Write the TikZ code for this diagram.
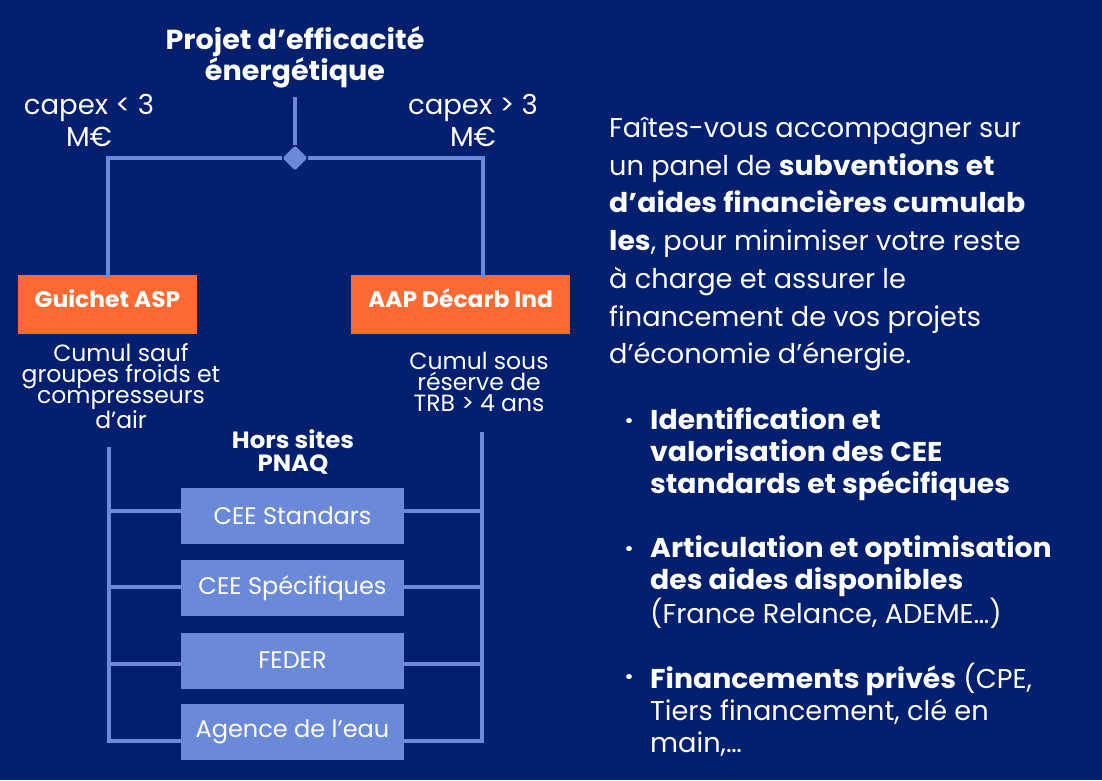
\documentclass[tikz,border=0pt]{standalone}
\usepackage{fontspec}
\setmainfont{Poppins}[BoldFeatures={FakeStretch=1.04}]
\usetikzlibrary{shapes.geometric,calc}
\definecolor{bgnavy}{HTML}{001F6F}
\definecolor{lnblue}{HTML}{6B89D9}
\definecolor{orng}{HTML}{FF6933}
\tikzset{
  ln/.style={draw=lnblue,line width=3.5pt},
  txt/.style={text=white,inner sep=0pt,font=\fontsize{27.5}{32}\selectfont},
  orangebox/.style={fill=orng,text=white,minimum height=59pt,inner sep=0pt,text height=14pt,text depth=8pt,font=\bfseries\fontsize{22.5}{24}\selectfont},
  aidbox/.style={fill=lnblue,text=white,minimum width=223pt,minimum height=56pt,inner sep=0pt,font=\fontsize{24}{26}\selectfont},
  note/.style={text=white,inner sep=0pt,align=center,font=\fontsize{23.5}{21}\selectfont},
  para/.style={text=white,inner sep=0pt,align=left,anchor=north west},
}
\begin{document}
\begin{tikzpicture}[x=1pt,y=-1pt]
\fill[bgnavy] (0,0) rectangle (1102,780);
\useasboundingbox (0,0) rectangle (1102,780);

% title
\node[txt,align=center,font=\bfseries\fontsize{27.5}{31}\selectfont] (title) at (295,57) {Projet d’efficacité\\énergétique};
\node[txt,align=center] (capL) at (89,120) {capex < 3\\M€};
\node[txt,align=center] (capR) at (473,120) {capex > 3\\M€};

\node[diamond,fill=lnblue,minimum width=25pt,minimum height=25pt,inner sep=0pt,rounded corners=2pt] (dia) at (295,158) {};
\coordinate (top) at (295,97);
\coordinate (cl) at (108,158);
\coordinate (cr) at (483,158);

% orange boxes
\node[orangebox,minimum width=179pt] (asp) at (107.5,304.5) {Guichet ASP};
\node[orangebox,minimum width=219pt] (aap) at (460.5,304.5) {AAP Décarb Ind};

\draw[ln] (top) -- (dia.north);
\draw[ln] (dia.west) -- (cl) -- ([yshift=-3pt]cl |- asp.north);
\draw[ln] (dia.east) -- (cr) -- ([yshift=-3pt]cr |- aap.north);

% notes
\node[note] (noteL) at (121,386) {Cumul sauf\\groupes froids et\\compresseurs\\d’air};
\node[note] (noteR) at (479,382) {Cumul sous\\réserve de\\TRB > 4 ans};
\node[note,font=\bfseries\fontsize{23.5}{23}\selectfont] (hors) at (293,452) {Hors sites\\PNAQ};

% aid boxes
\node[aidbox] (b1) at (292.5,515.5) {CEE Standars};
\node[aidbox] (b2) at (292.5,588) {CEE Spécifiques};
\node[aidbox] (b3) at (292.5,660.5) {FEDER};
\node[aidbox] (b4) at (292.5,731.5) {Agence de l’eau};

\coordinate (lt) at (109,447);
\coordinate (rt) at (482,432);
\coordinate (h1) at (0,511);
\coordinate (h2) at (0,587);
\coordinate (h3) at (0,664);
\coordinate (h4) at (0,741);

\draw[ln] (lt) -- (lt |- h4) -- (b4.west |- h4);
\draw[ln] (rt) -- (rt |- h4) -- (b4.east |- h4);
\foreach \b/\h in {b1/h1,b2/h2,b3/h3}{
  \draw[ln] (lt |- \h) -- (\b.west |- \h);
  \draw[ln] (\b.east |- \h) -- (rt |- \h);
}

% right text
\node[para,font=\fontsize{27.2}{37.7}\selectfont] (intro) at (609,111) {\strut Faîtes-vous accompagner sur\\un panel de \textbf{subventions et}\\\textbf{d’aides financières cumulab}\\\textbf{les}, pour minimiser votre reste\\à charge et assurer le\\financement de vos projets\\d’économie d’énergie.};

\node[para,font=\bfseries\fontsize{27.2}{32}\selectfont] (it1) at (650,407) {\strut Identification et\\valorisation des CEE\\standards et spécifiques};
\node[para,font=\fontsize{27.2}{32}\selectfont] (it2) at (650,535) {\strut\textbf{Articulation et optimisation}\\\textbf{des aides disponibles}\\(France Relance, ADEME…)};
\node[para,font=\fontsize{27.2}{32}\selectfont] (it3) at (650,663) {\strut\textbf{Financements privés} (CPE,\\Tiers financement, clé en\\main,…};
\foreach \n in {it1,it2,it3}{
  \node[text=white,inner sep=0pt,font=\bfseries\fontsize{27}{32}\selectfont,anchor=base] (dot\n) at ([xshift=-21pt,yshift=-22.4pt]\n.north west) {·};
}
\end{tikzpicture}
\end{document}
